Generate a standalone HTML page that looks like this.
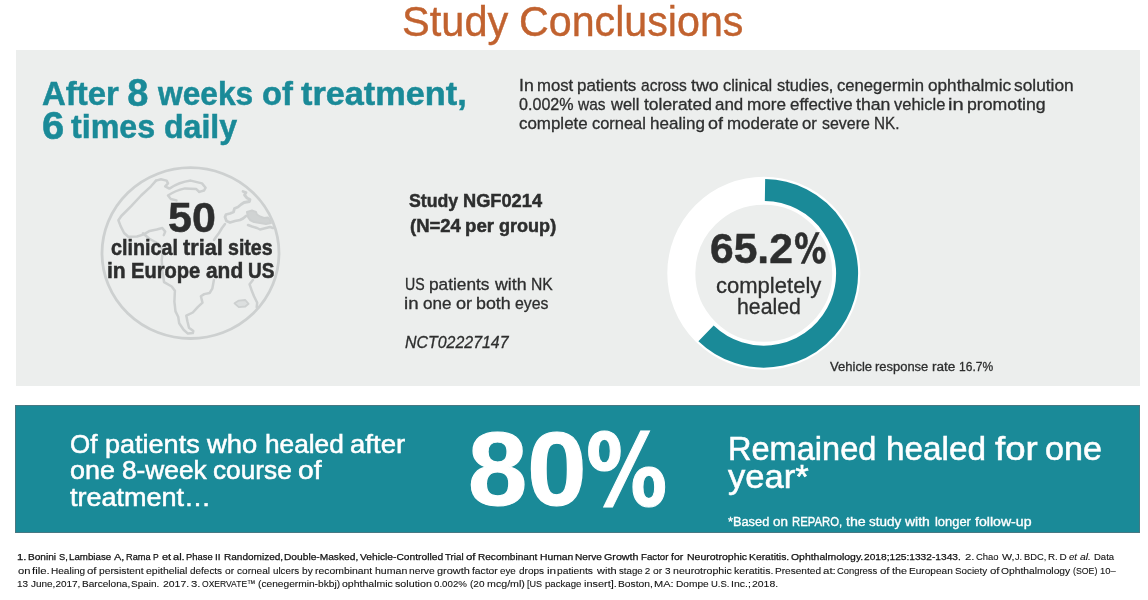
<!DOCTYPE html>
<html lang="en"><head><meta charset="utf-8"><title>Study Conclusions</title>
<style>
html,body{margin:0;padding:0;background:#fff;}
body{width:1148px;height:600px;position:relative;overflow:hidden;font-family:"Liberation Sans",sans-serif;}
.panel{position:absolute;}
#grey{left:16px;top:49.8px;width:1123.8px;height:336.2px;background:#eceeed;}
#teal{left:15.2px;top:405px;width:1124.8px;height:127.5px;background:#1a8a98;box-shadow:inset 0 0 0 0.8px #55737c;}
.t{position:absolute;white-space:nowrap;line-height:1;transform-origin:0 0;margin:0;}
svg{position:absolute;overflow:visible;}
.w.dj{font-family:"DejaVu Sans",sans-serif;font-size:0.9615em;top:0.054em}
.w.dj2{top:0.018em}
.w.bigd{font-size:1.145em;line-height:1;top:-0.078em}
.w{position:absolute;left:0;top:0;transform-origin:0 0;white-space:nowrap;}
.nb{-webkit-text-stroke:0.1px #111;}
.it{font-style:italic;}
</style></head><body>
<div class="panel" id="grey"></div>
<div class="panel" id="teal"></div>
<svg id="globe" style="left:95px;top:160px" width="195" height="190" viewBox="95 160 195 190" fill="none" stroke="#cdd0d0" stroke-width="2.5" stroke-linejoin="round" stroke-linecap="round">
<ellipse cx="190.5" cy="253.1" rx="88.5" ry="85.4" stroke-width="2.8"/>
<path d="M156 180.6 L160.9 179.2 L166.6 180.6 L168 183.4 L165.2 186.3 L169.4 188.6 Q179.3 182.2 190.7 180.6 L202 183.4 L205.6 187.7 L204.1 190.5 L199.2 191.9"/>
<path d="M176.5 200.4 L170.8 199 L168 195.5 Q175.1 190.7 185 188.4 L196.3 189.1 L199.2 191.9"/>
<path d="M156 180.6 L151 186.3 L141.1 195.5 L131.2 206.1 L121.3 216 L118.4 220.3 L120.5 225.9 L124.1 233 L128.3 236.8 L137 236.5 L143.9 234.4 L149.6 230.9 L156.7 229.5 L162.3 228 L165.2 231.6 L163.8 235.1"/>
<path d="M143 233.3 L149 238.5 L158 243.5 L163 250 L161.7 260 L162.5 271.7 L164.1 282.2 L171.7 286.5 L174.9 290.8 L174.4 301.7 L175.5 311.4 L178.2 316.8 L179.2 323.3 L183.6 329.8 L187.9 333.6 L192.8 333.1 L193.3 330.9 L189 327.7 L187.4 321.2 L186.3 315.7 L192.8 312.5 L197.7 307.1 L202.5 302.7 L200.9 296.2 L204.2 294.1 L209.6 293 L212.3 288.7 L213.9 280"/>
<path d="M243 191.5 L246 192.5 L244.5 195 L247 198 L250 199.5 L249.5 201.5 L244 202.5 L241 204.5 L238 207 L234.5 208.5 L233.5 212 L230 213.5 L226 214.5 L225 217 L226.5 221 L230 222.5 L235 221 L240 220 L243 218.5 L246 216" stroke-width="2.8"/>
<path d="M247 212 L252 210.5 L256 212 L257 214.5 L260 216.5 L264 218 L268 217.5 L270 220 L271 223 L266 224 L260 223 L254 222 L250 220 L248 217 Z" fill="#d0d3d3" stroke-width="2"/>
<path d="M248 225 L252 226.5 L257 228 L260 229.5 L266 228 L270 227 L273 228"/>
<path d="M225 224 L222 228 L219 233 L216 237 L214 240"/>
<path d="M252.9 280 L249.6 284.3 L251.8 290.8 L254 296.2 L257.2 302.7 L256.7 307.1"/>
<path d="M234.5 303.3 L238.8 300.6 L245.3 300 L248.6 303.8 L245.3 306.5 L238.8 307.1 Z" stroke-width="1.8" fill="#dcdfdf"/>
</svg>
<svg id="donut" style="left:660px;top:170px" width="210" height="210" viewBox="660 170 210 210">
<circle cx="763.8" cy="273.3" r="82.5" fill="none" stroke="#ffffff" stroke-width="28"/>
<path d="M 765.0 190.0 A 83.3 83.3 0 1 1 706.04 333.32" fill="none" stroke="#1a8a98" stroke-width="22"/>
</svg>
<div class="t" id="title" style="left:0;top:0.08px;font-size:43.38px;font-weight:400;color:#c1622f;font-style:normal;-webkit-text-stroke:0.4px #c1622f;"><span class="w" style="left:402.40px;transform:scaleX(0.9583)">Study</span> <span class="w" style="left:518.63px;transform:scaleX(0.9500)">Conclusions</span></div>
<div class="t" id="h1" style="left:0;top:77.11px;font-size:33.19px;font-weight:700;color:#1a8a98;font-style:normal;-webkit-text-stroke:0.5px #1a8a98;"><span class="w" style="left:42.03px;transform:scaleX(0.9920)">After</span> <span class="w bigd" style="left:127.36px;transform:scaleX(1.0000)">8</span> <span class="w" style="left:157.77px;transform:scaleX(0.9553)">weeks</span> <span class="w" style="left:261.56px;transform:scaleX(0.9857)">of</span> <span class="w" style="left:301.38px;transform:scaleX(1.0332)">treatment,</span></div>
<div class="t" id="h2" style="left:0;top:109.91px;font-size:33.19px;font-weight:700;color:#1a8a98;font-style:normal;-webkit-text-stroke:0.5px #1a8a98;"><span class="w bigd" style="left:41.81px;transform:scaleX(1.0526)">6</span> <span class="w" style="left:71.11px;transform:scaleX(0.9703)">times</span> <span class="w" style="left:163.67px;transform:scaleX(0.9675)">daily</span></div>
<div class="t" id="p1" style="left:0;top:76.84px;font-size:16.25px;font-weight:400;color:#2d2e2e;font-style:normal;-webkit-text-stroke:0.3px #2d2e2e;"><span class="w" style="left:518.57px;transform:scaleX(1.0883)">In</span> <span class="w" style="left:536.69px;transform:scaleX(1.0283)">most</span> <span class="w" style="left:577.47px;transform:scaleX(1.0427)">patients</span> <span class="w" style="left:640.81px;transform:scaleX(0.9577)">across</span> <span class="w" style="left:690.66px;transform:scaleX(1.0976)">two</span> <span class="w" style="left:722.94px;transform:scaleX(1.0073)">clinical</span> <span class="w" style="left:776.66px;transform:scaleX(1.0068)">studies,</span> <span class="w" style="left:837.09px;transform:scaleX(1.0251)">cenegermin</span> <span class="w" style="left:927.61px;transform:scaleX(1.0569)">ophthalmic</span> <span class="w" style="left:1014.22px;transform:scaleX(1.0659)">solution</span></div>
<div class="t" id="p2" style="left:0;top:95.74px;font-size:16.25px;font-weight:400;color:#2d2e2e;font-style:normal;-webkit-text-stroke:0.3px #2d2e2e;"><span class="w" style="left:518.98px;transform:scaleX(0.9905)">0.002%</span> <span class="w" style="left:578.08px;transform:scaleX(0.9520)">was</span> <span class="w" style="left:610.64px;transform:scaleX(1.0169)">well</span> <span class="w" style="left:643.73px;transform:scaleX(1.0729)">tolerated</span> <span class="w" style="left:715.05px;transform:scaleX(1.0403)">and</span> <span class="w" style="left:746.69px;transform:scaleX(1.0556)">more</span> <span class="w" style="left:789.81px;transform:scaleX(1.0391)">effective</span> <span class="w" style="left:856.44px;transform:scaleX(1.0844)">than</span> <span class="w" style="left:894.19px;transform:scaleX(1.0159)">vehicle</span> <span class="w" style="left:948.39px;transform:scaleX(1.2386)">in</span> <span class="w" style="left:967.25px;transform:scaleX(1.0889)">promoting</span></div>
<div class="t" id="p3" style="left:0;top:114.74px;font-size:16.25px;font-weight:400;color:#2d2e2e;font-style:normal;-webkit-text-stroke:0.3px #2d2e2e;"><span class="w" style="left:519.05px;transform:scaleX(1.0412)">complete</span> <span class="w" style="left:591.70px;transform:scaleX(1.0110)">corneal</span> <span class="w" style="left:650.14px;transform:scaleX(1.0473)">healing</span> <span class="w" style="left:707.50px;transform:scaleX(1.1036)">of</span> <span class="w" style="left:726.54px;transform:scaleX(1.0424)">moderate</span> <span class="w" style="left:802.09px;transform:scaleX(1.0302)">or</span> <span class="w" style="left:821.95px;transform:scaleX(0.9819)">severe</span> <span class="w" style="left:873.91px;transform:scaleX(0.9373)">NK.</span></div>
<div class="t" id="g50" style="left:0;top:196.28px;font-size:43.15px;font-weight:700;color:#2d2e2e;font-style:normal;-webkit-text-stroke:0.5px #2d2e2e;"><span class="w" style="left:168.24px;transform:scaleX(0.9958)">50</span></div>
<div class="t" id="g1" style="left:0;top:236.74px;font-size:21.22px;font-weight:700;color:#2d2e2e;font-style:normal;-webkit-text-stroke:0.5px #2d2e2e;"><span class="w" style="left:110.69px;transform:scaleX(0.9303)">clinical</span> <span class="w" style="left:182.89px;transform:scaleX(1.0230)">trial</span> <span class="w" style="left:227.89px;transform:scaleX(0.9221)">sites</span></div>
<div class="t" id="g2" style="left:0;top:260.04px;font-size:21.22px;font-weight:700;color:#2d2e2e;font-style:normal;-webkit-text-stroke:0.5px #2d2e2e;"><span class="w" style="left:107.24px;transform:scaleX(0.9927)">in</span> <span class="w" style="left:131.01px;transform:scaleX(0.9459)">Europe</span> <span class="w" style="left:205.50px;transform:scaleX(0.9850)">and</span> <span class="w" style="left:247.76px;transform:scaleX(0.8947)">US</span></div>
<div class="t" id="s1" style="left:0;top:192.49px;font-size:18.91px;font-weight:700;color:#2d2e2e;font-style:normal;-webkit-text-stroke:0.5px #2d2e2e;"><span class="w" style="left:408.53px;transform:scaleX(0.9358)">Study</span> <span class="w" style="left:462.82px;transform:scaleX(0.9642)">NGF0214</span></div>
<div class="t" id="s2" style="left:0;top:217.49px;font-size:18.91px;font-weight:700;color:#2d2e2e;font-style:normal;-webkit-text-stroke:0.5px #2d2e2e;"><span class="w" style="left:409.55px;transform:scaleX(0.9787)">(N=24</span> <span class="w" style="left:465.26px;transform:scaleX(0.9907)">per</span> <span class="w" style="left:499.20px;transform:scaleX(0.9552)">group)</span></div>
<div class="t" id="s3" style="left:0;top:277.01px;font-size:16.52px;font-weight:400;color:#2d2e2e;font-style:normal;-webkit-text-stroke:0.3px #2d2e2e;"><span class="w" style="left:404.86px;transform:scaleX(0.8555)">US</span> <span class="w" style="left:429.02px;transform:scaleX(1.0456)">patients</span> <span class="w" style="left:494.64px;transform:scaleX(1.0749)">with</span> <span class="w" style="left:530.85px;transform:scaleX(0.9500)">NK</span></div>
<div class="t" id="s4" style="left:0;top:296.41px;font-size:16.52px;font-weight:400;color:#2d2e2e;font-style:normal;-webkit-text-stroke:0.3px #2d2e2e;"><span class="w" style="left:403.81px;transform:scaleX(1.1320)">in</span> <span class="w" style="left:422.95px;transform:scaleX(1.0344)">one</span> <span class="w" style="left:455.56px;transform:scaleX(1.0980)">or</span> <span class="w" style="left:475.72px;transform:scaleX(1.0806)">both</span> <span class="w" style="left:515.05px;transform:scaleX(0.9592)">eyes</span></div>
<div class="t" id="s5" style="left:0;top:334.61px;font-size:16.52px;font-weight:400;color:#2d2e2e;font-style:italic;-webkit-text-stroke:0.3px #2d2e2e;"><span class="w" style="left:404.91px;transform:scaleX(0.9643)">NCT02227147</span></div>
<div class="t" id="d1" style="left:0;top:227.08px;font-size:43.15px;font-weight:700;color:#2d2e2e;font-style:normal;-webkit-text-stroke:0.5px #2d2e2e;"><span class="w" style="left:710.21px;transform:scaleX(0.9872)">65.2</span><span class="w dj dj2" style="left:794.32px;transform:scaleX(0.7800)">%</span></div>
<div class="t" id="d2" style="left:0;top:275.28px;font-size:21.18px;font-weight:400;color:#2d2e2e;font-style:normal;-webkit-text-stroke:0.3px #2d2e2e;"><span class="w" style="left:715.69px;transform:scaleX(1.0406)">completely</span></div>
<div class="t" id="d3" style="left:0;top:296.28px;font-size:21.18px;font-weight:400;color:#2d2e2e;font-style:normal;-webkit-text-stroke:0.3px #2d2e2e;"><span class="w" style="left:737.21px;transform:scaleX(1.0038)">healed</span></div>
<div class="t" id="v" style="left:0;top:359.67px;font-size:13.03px;font-weight:400;color:#2d2e2e;font-style:normal;-webkit-text-stroke:0.3px #2d2e2e;"><span class="w" style="left:829.91px;transform:scaleX(1.0040)">Vehicle</span> <span class="w" style="left:875.30px;transform:scaleX(0.9944)">response</span> <span class="w" style="left:931.80px;transform:scaleX(1.0439)">rate</span> <span class="w" style="left:959.42px;transform:scaleX(0.9252)">16.7%</span></div>
<div class="t" id="t1" style="left:0;top:431.14px;font-size:26.06px;font-weight:400;color:#fff;font-style:normal;-webkit-text-stroke:0.55px #fff;"><span class="w" style="left:70.44px;transform:scaleX(0.9937)">Of</span> <span class="w" style="left:104.82px;transform:scaleX(1.0379)">patients</span> <span class="w" style="left:207.35px;transform:scaleX(1.0509)">who</span> <span class="w" style="left:264.79px;transform:scaleX(1.0070)">healed</span> <span class="w" style="left:349.68px;transform:scaleX(1.0579)">after</span></div>
<div class="t" id="t2" style="left:0;top:457.44px;font-size:26.06px;font-weight:400;color:#fff;font-style:normal;-webkit-text-stroke:0.55px #fff;"><span class="w" style="left:70.22px;transform:scaleX(1.0340)">one</span> <span class="w" style="left:121.54px;transform:scaleX(1.0078)">8-week</span> <span class="w" style="left:212.81px;transform:scaleX(1.0071)">course</span> <span class="w" style="left:297.87px;transform:scaleX(1.0810)">of</span></div>
<div class="t" id="t3" style="left:0;top:483.64px;font-size:26.06px;font-weight:400;color:#fff;font-style:normal;-webkit-text-stroke:0.55px #fff;"><span class="w" style="left:70.17px;transform:scaleX(1.0367)">treatment…</span></div>
<div class="t" id="big" style="left:0;top:417.04px;font-size:104.03px;font-weight:700;color:#fff;font-style:normal;-webkit-text-stroke:1.2px #fff;"><span class="w" style="left:468.43px;transform:scaleX(1.0234)">80</span><span class="w dj" style="left:586.47px;transform:scaleX(0.8105)">%</span></div>
<div class="t" id="r1" style="left:0;top:432.47px;font-size:33.23px;font-weight:400;color:#fff;font-style:normal;-webkit-text-stroke:0.55px #fff;"><span class="w" style="left:728.20px;transform:scaleX(0.9799)">Remained</span> <span class="w" style="left:885.64px;transform:scaleX(1.0026)">healed</span> <span class="w" style="left:994.69px;transform:scaleX(1.1028)">for</span> <span class="w" style="left:1045.38px;transform:scaleX(1.0294)">one</span></div>
<div class="t" id="r2" style="left:0;top:460.07px;font-size:33.23px;font-weight:400;color:#fff;font-style:normal;-webkit-text-stroke:0.55px #fff;"><span class="w" style="left:728.02px;transform:scaleX(1.0406)">year*</span></div>
<div class="t" id="r3" style="left:0;top:514.72px;font-size:13.09px;font-weight:400;color:#fff;font-style:normal;-webkit-text-stroke:0.35px #fff;"><span class="w" style="left:728.44px;transform:scaleX(0.9780)">*Based</span> <span class="w" style="left:773.34px;transform:scaleX(1.0267)">on</span> <span class="w" style="left:792.05px;transform:scaleX(0.8675)">REPARO,</span> <span class="w" style="left:845.66px;transform:scaleX(1.0883)">the</span> <span class="w" style="left:868.67px;transform:scaleX(1.0287)">study</span> <span class="w" style="left:905.24px;transform:scaleX(1.0661)">with</span> <span class="w" style="left:934.67px;transform:scaleX(0.9878)">longer</span> <span class="w" style="left:974.58px;transform:scaleX(1.0791)">follow-up</span></div>
<div class="t" id="f1" style="left:0;top:551.57px;font-size:9.96px;font-weight:400;color:#111;font-style:normal;-webkit-text-stroke:0.25px #111;"><span class="w" style="left:17.00px;transform:scaleX(1.1390)">1.</span> <span class="w" style="left:27.89px;transform:scaleX(1.0163)">Bonini</span> <span class="w" style="left:58.88px;transform:scaleX(0.9332)">S,</span> <span class="w" style="left:69.20px;transform:scaleX(0.9768)">Lambiase</span> <span class="w" style="left:113.86px;transform:scaleX(1.0944)">A,</span> <span class="w" style="left:125.58px;transform:scaleX(0.9276)">Rama</span> <span class="w" style="left:153.45px;transform:scaleX(0.8571)">P</span> <span class="w" style="left:161.66px;transform:scaleX(1.1038)">et</span> <span class="w" style="left:173.28px;transform:scaleX(1.1085)">al.</span> <span class="w" style="left:186.39px;transform:scaleX(0.9434)">Phase</span> <span class="w" style="left:215.48px;transform:scaleX(1.0021)">II</span> <span class="w" style="left:223.55px;transform:scaleX(1.0080)">Randomized,</span> <span class="w" style="left:284.23px;transform:scaleX(1.0245)">Double-Masked,</span> <span class="w" style="left:360.06px;transform:scaleX(1.0294)">Vehicle-Controlled</span> <span class="w" style="left:445.08px;transform:scaleX(0.9764)">Trial</span> <span class="w" style="left:466.47px;transform:scaleX(1.1492)">of</span> <span class="w" style="left:478.16px;transform:scaleX(1.0107)">Recombinant</span> <span class="w" style="left:539.95px;transform:scaleX(1.0373)">Human</span> <span class="w" style="left:575.02px;transform:scaleX(1.0143)">Nerve</span> <span class="w" style="left:604.44px;transform:scaleX(1.0767)">Growth</span> <span class="w" style="left:640.75px;transform:scaleX(0.9722)">Factor</span> <span class="w" style="left:671.23px;transform:scaleX(1.0519)">for</span> <span class="w" style="left:686.55px;transform:scaleX(1.0545)">Neurotrophic</span> <span class="w" style="left:748.91px;transform:scaleX(1.0375)">Keratitis.</span> <span class="w" style="left:790.62px;transform:scaleX(1.0474)">Ophthalmology.</span> <span class="w" style="left:864.45px;transform:scaleX(1.0228)">2018;125:1332-1343.</span> <span class="w nb" style="left:965.39px;transform:scaleX(1.1390)">2.</span> <span class="w nb" style="left:976.28px;transform:scaleX(0.9455)">Chao</span> <span class="w nb" style="left:1001.56px;transform:scaleX(1.0730)">W,</span> <span class="w nb" style="left:1015.47px;transform:scaleX(0.9196)">J.</span> <span class="w nb" style="left:1024.19px;transform:scaleX(0.9383)">BDC,</span> <span class="w nb" style="left:1048.06px;transform:scaleX(0.9834)">R.</span> <span class="w nb" style="left:1059.41px;transform:scaleX(1.0000)">D</span> <span class="w nb it" style="left:1068.70px;transform:scaleX(0.9649)">et</span> <span class="w nb it" style="left:1080.11px;transform:scaleX(1.0457)">al.</span> <span class="w nb" style="left:1093.61px;transform:scaleX(0.9543)">Data</span></div>
<div class="t" id="f2" style="left:0;top:566.07px;font-size:9.96px;font-weight:400;color:#111;font-style:normal;-webkit-text-stroke:0.1px #111;"><span class="w" style="left:17.73px;transform:scaleX(1.1217)">on</span> <span class="w" style="left:31.86px;transform:scaleX(1.1451)">file.</span> <span class="w" style="left:51.02px;transform:scaleX(1.0087)">Healing</span> <span class="w" style="left:87.22px;transform:scaleX(1.1502)">of</span> <span class="w" style="left:98.91px;transform:scaleX(1.0311)">persistent</span> <span class="w" style="left:145.84px;transform:scaleX(1.0529)">epithelial</span> <span class="w" style="left:190.03px;transform:scaleX(1.0004)">defects</span> <span class="w" style="left:224.98px;transform:scaleX(1.0296)">or</span> <span class="w" style="left:237.16px;transform:scaleX(1.0115)">corneal</span> <span class="w" style="left:273.00px;transform:scaleX(0.9836)">ulcers</span> <span class="w" style="left:301.95px;transform:scaleX(1.0196)">by</span> <span class="w" style="left:315.20px;transform:scaleX(1.0452)">recombinant</span> <span class="w" style="left:374.89px;transform:scaleX(1.0599)">human</span> <span class="w" style="left:408.88px;transform:scaleX(1.0294)">nerve</span> <span class="w" style="left:436.98px;transform:scaleX(1.0988)">growth</span> <span class="w" style="left:471.53px;transform:scaleX(1.0362)">factor</span> <span class="w" style="left:500.39px;transform:scaleX(0.9858)">eye</span> <span class="w" style="left:518.67px;transform:scaleX(1.0041)">drops</span> <span class="w" style="left:546.52px;transform:scaleX(1.1831)">in</span> <span class="w" style="left:557.34px;transform:scaleX(1.0320)">patients</span> <span class="w" style="left:597.28px;transform:scaleX(1.1072)">with</span> <span class="w" style="left:618.59px;transform:scaleX(0.9727)">stage</span> <span class="w" style="left:644.72px;transform:scaleX(1.0000)">2</span> <span class="w" style="left:652.81px;transform:scaleX(1.0296)">or</span> <span class="w" style="left:664.98px;transform:scaleX(1.0000)">3</span> <span class="w" style="left:673.08px;transform:scaleX(1.0635)">neurotrophic</span> <span class="w" style="left:734.12px;transform:scaleX(1.0624)">keratitis.</span> <span class="w" style="left:774.97px;transform:scaleX(1.0137)">Presented</span> <span class="w" style="left:822.72px;transform:scaleX(1.1530)">at:</span> <span class="w" style="left:837.06px;transform:scaleX(0.9430)">Congress</span> <span class="w" style="left:880.08px;transform:scaleX(1.1502)">of</span> <span class="w" style="left:891.77px;transform:scaleX(1.0832)">the</span> <span class="w" style="left:909.25px;transform:scaleX(1.0142)">European</span> <span class="w" style="left:954.80px;transform:scaleX(0.9860)">Society</span> <span class="w" style="left:989.50px;transform:scaleX(1.1502)">of</span> <span class="w" style="left:1001.19px;transform:scaleX(1.0344)">Ophthalmology</span> <span class="w" style="left:1072.95px;transform:scaleX(0.8818)">(SOE)</span> <span class="w" style="left:1099.91px;transform:scaleX(0.9479)">10–</span></div>
<div class="t" id="f3" style="left:0;top:579.47px;font-size:9.96px;font-weight:400;color:#111;font-style:normal;-webkit-text-stroke:0.1px #111;"><span class="w" style="left:17.00px;transform:scaleX(1.0034)">13</span> <span class="w" style="left:30.66px;transform:scaleX(1.0019)">June,2017,</span> <span class="w" style="left:81.50px;transform:scaleX(1.0129)">Barcelona,</span> <span class="w" style="left:131.17px;transform:scaleX(0.9982)">Spain.</span> <span class="w" style="left:163.34px;transform:scaleX(1.0480)">2017.</span> <span class="w" style="left:190.92px;transform:scaleX(1.1380)">3.</span> <span class="w" style="left:201.78px;transform:scaleX(0.8580)">OXERVATE™</span> <span class="w" style="left:257.84px;transform:scaleX(1.0233)">(cenegermin-bkbj)</span> <span class="w" style="left:342.44px;transform:scaleX(1.0554)">ophthalmic</span> <span class="w" style="left:395.42px;transform:scaleX(1.0760)">solution</span> <span class="w" style="left:434.05px;transform:scaleX(0.9755)">0.002%</span> <span class="w" style="left:469.50px;transform:scaleX(1.0041)">(20</span> <span class="w" style="left:486.50px;transform:scaleX(1.0712)">mcg/ml)</span> <span class="w" style="left:526.91px;transform:scaleX(0.9102)">[US</span> <span class="w" style="left:544.91px;transform:scaleX(0.9678)">package</span> <span class="w" style="left:583.75px;transform:scaleX(1.0985)">insert].</span> <span class="w" style="left:618.00px;transform:scaleX(1.0344)">Boston,</span> <span class="w" style="left:654.38px;transform:scaleX(1.1087)">MA:</span> <span class="w" style="left:675.59px;transform:scaleX(1.0180)">Dompe</span> <span class="w" style="left:710.70px;transform:scaleX(0.9518)">U.S.</span> <span class="w" style="left:730.69px;transform:scaleX(1.0519)">Inc.;</span> <span class="w" style="left:752.12px;transform:scaleX(1.0480)">2018.</span></div>
</body></html>
